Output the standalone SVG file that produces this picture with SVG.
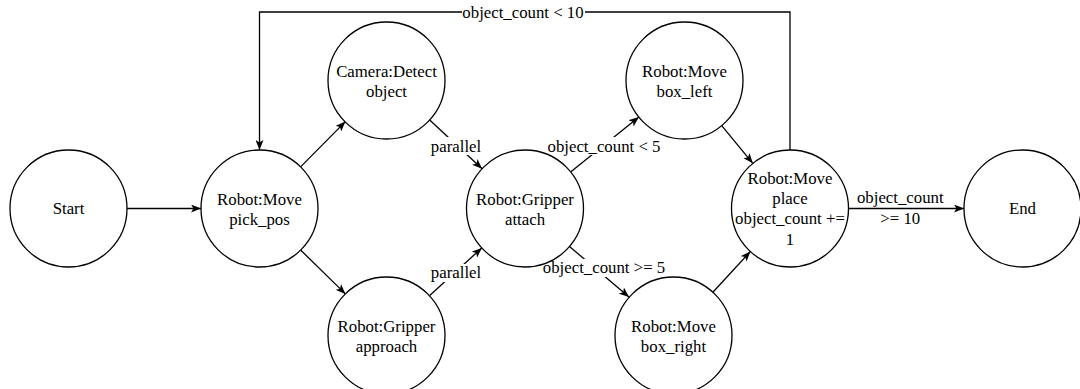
<svg xmlns="http://www.w3.org/2000/svg" width="1080" height="389" viewBox="0 0 1080 389">
<style>
.n{fill:#fff;stroke:#000;stroke-width:1.3}
text{font-family:'Liberation Serif','Times New Roman','DejaVu Serif',serif;font-size:16.8px;fill:#000;text-anchor:middle}
.e{fill:none;stroke:#000;stroke-width:1.3}
.bg{fill:#fff}
</style>
<defs>
<marker id="a" markerUnits="userSpaceOnUse" viewBox="0 0 10 8" refX="10" refY="4" markerWidth="10" markerHeight="8" orient="auto">
<path d="M0,0 L10,4 L0,8 L2.5,4 Z" fill="#000"/>
</marker>
</defs>
<rect width="1080" height="389" fill="#fff"/>
<g id="connectors" font-family="Liberation Serif, serif">
<line class="e" x1="127" y1="208.5" x2="201" y2="208.5" marker-end="url(#a)"/>
<line class="e" x1="300.6" y1="166.9" x2="345.4" y2="121.6" marker-end="url(#a)"/>
<line class="e" x1="300.6" y1="250" x2="345.4" y2="293.9" marker-end="url(#a)"/>
<line class="e" x1="429.4" y1="119.8" x2="482.1" y2="168.7" marker-end="url(#a)"/>
<line class="e" x1="429.7" y1="295.6" x2="481.8" y2="247.9" marker-end="url(#a)"/>
<line class="e" x1="570.6" y1="171.9" x2="638.9" y2="117.1" marker-end="url(#a)"/>
<line class="e" x1="569.5" y1="246.5" x2="629" y2="297" marker-end="url(#a)"/>
<line class="e" x1="721.7" y1="125.6" x2="752.8" y2="163.3" marker-end="url(#a)"/>
<line class="e" x1="713.1" y1="292" x2="750.4" y2="251.5" marker-end="url(#a)"/>
<line class="e" x1="848.5" y1="208.5" x2="964" y2="208.5" marker-end="url(#a)"/>
<path class="e" d="M790,150 V12 H259.5 V150" marker-end="url(#a)"/>
<rect class="bg" x="462" y="3" width="123" height="18"/>
<text x="523" y="18">object_count &lt; 10</text>
<rect class="bg" x="430" y="137" width="52" height="18"/>
<text x="456" y="151.5">parallel</text>
<rect class="bg" x="430" y="264" width="52" height="18"/>
<text x="456" y="278.3">parallel</text>
<rect class="bg" x="547" y="137" width="114" height="18"/>
<text x="604" y="151.5">object_count &lt; 5</text>
<rect class="bg" x="542" y="259" width="124" height="18"/>
<text x="604" y="273.3">object_count &gt;= 5</text>
<text x="900.3" y="203.3">object_count</text>
<text x="900.3" y="224">&gt;= 10</text>
</g>
<g id="start">
<circle class="n" cx="68.5" cy="208.5" r="58.5"/>
<text x="68.5" y="214">Start</text>
</g>
<g id="pick_pos">
<circle class="n" cx="259.5" cy="208.5" r="58.5"/>
<text x="259.5" y="204.5">Robot:Move</text>
<text x="259.5" y="225">pick_pos</text>
</g>
<g id="detect">
<circle class="n" cx="386.5" cy="80.5" r="58.5"/>
<text x="386.5" y="76.5">Camera:Detect</text>
<text x="386.5" y="97">object</text>
</g>
<g id="approach">
<circle class="n" cx="386.5" cy="335.5" r="58.5"/>
<text x="386.5" y="331.5">Robot:Gripper</text>
<text x="386.5" y="352">approach</text>
</g>
<g id="attach">
<circle class="n" cx="525" cy="208.5" r="58.5"/>
<text x="525" y="204.5">Robot:Gripper</text>
<text x="525" y="225">attach</text>
</g>
<g id="box_left">
<circle class="n" cx="684.5" cy="80.5" r="58.5"/>
<text x="684.5" y="76.5">Robot:Move</text>
<text x="684.5" y="97">box_left</text>
</g>
<g id="box_right">
<circle class="n" cx="673.5" cy="335.5" r="58.5"/>
<text x="673.5" y="331.5">Robot:Move</text>
<text x="673.5" y="352">box_right</text>
</g>
<g id="place">
<circle class="n" cx="790" cy="208.5" r="58.5"/>
<text x="790" y="183.5">Robot:Move</text>
<text x="790" y="204">place</text>
<text x="790" y="224.3">object_count +=</text>
<text x="790" y="244.6">1</text>
</g>
<g id="end">
<circle class="n" cx="1022.5" cy="208.5" r="58.5"/>
<text x="1022.5" y="214">End</text>
</g>
</svg>
